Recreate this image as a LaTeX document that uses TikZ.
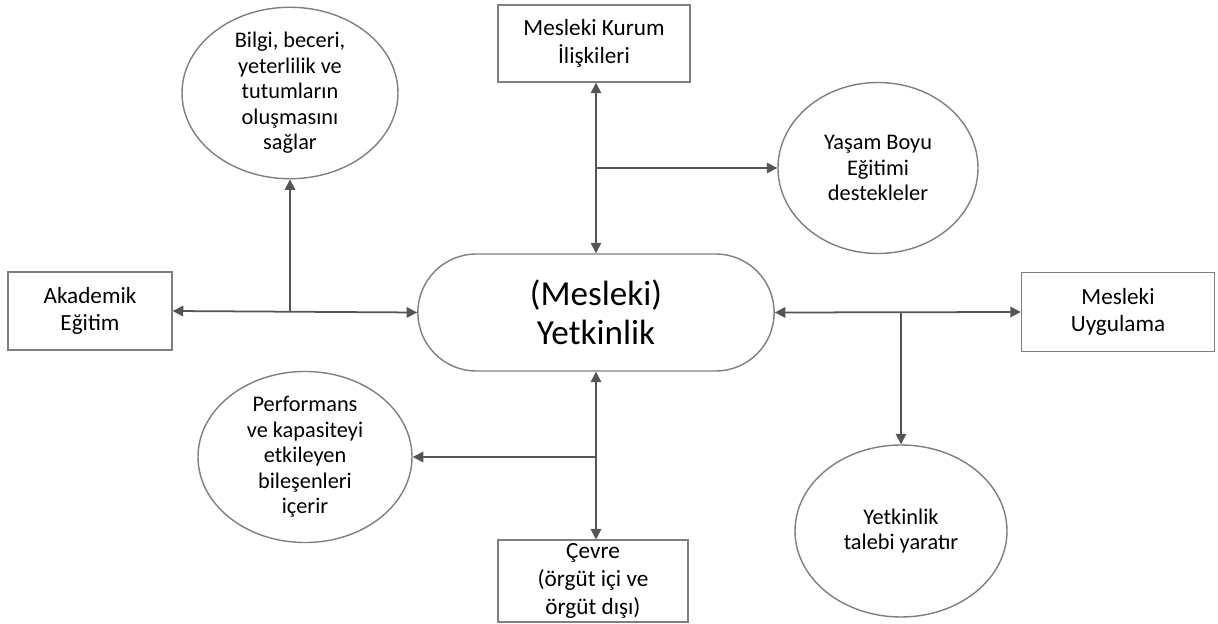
\documentclass[tikz,border=0pt]{standalone}
\usepackage{fontspec}
\setmainfont{Carlito}
\usetikzlibrary{shapes.geometric}
\usetikzlibrary{shapes.misc}
\usetikzlibrary{arrows.meta}

\definecolor{edgegray}{HTML}{555555}
\definecolor{linegray}{HTML}{7F7F7F}

\begin{document}
\begin{tikzpicture}
%[x=0.02cm, y=-0.02cm] -- pixel grid of the scan

\tikzstyle{compbox}=[align=center,draw=linegray,line width=0.8pt,
inner sep=2pt,font=\fontsize{13.2}{15.8}\selectfont]
\tikzstyle{compell}=[align=center,shape=ellipse,draw=linegray,line width=0.8pt,
inner sep=0pt,font=\fontsize{12.7}{14.5}\selectfont]
\tikzstyle{compcore}=[align=center,shape=rounded rectangle,draw=linegray,
line width=0.8pt,font=\fontsize{20}{22}\selectfont]
\tikzstyle{link}=[draw=edgegray,line width=1pt,
-{Triangle[length=6pt,width=6pt]}]
\tikzstyle{twolink}=[draw=edgegray,line width=1pt,
{Triangle[length=6pt,width=6pt]}-{Triangle[length=6pt,width=6pt]}]

\useasboundingbox (0,0) rectangle (24.36,-12.48);

\node[compcore, minimum width=7.36cm, minimum height=2.34cm] (core) at (11.92,-6.25) {(Mesleki)\\Yetkinlik};

\node[compbox, minimum width=3.84cm, minimum height=1.54cm] (kurum) at (11.88,-0.87) {Mesleki Kurum\\İlişkileri};
\node[compbox, minimum width=3.28cm, minimum height=1.56cm] (akademik) at (1.80,-6.22) {Akademik\\Eğitim};
\node[compbox, minimum width=3.86cm, minimum height=1.58cm] (uygulama) at (22.36,-6.24) {Mesleki\\Uygulama};
\node[compbox, minimum width=3.80cm, minimum height=1.56cm] (cevre) at (11.86,-11.62) {Çevre\\(örgüt içi ve\\örgüt dışı)};

\node[compell, minimum width=4.32cm, minimum height=3.42cm] (bilgi) at (5.80,-1.86) {Bilgi, beceri,\\yeterlilik ve\\tutumların\\oluşmasını\\sağlar};
\node[compell, minimum width=4.00cm, minimum height=3.42cm] (yasam) at (17.56,-3.36) {Yaşam Boyu\\Eğitimi\\destekleler};
\node[compell, minimum width=4.28cm, minimum height=3.20cm] (performans) at (6.10,-9.14) {Performans\\ve kapasiteyi\\etkileyen\\bileşenleri\\içerir};
\node[compell, minimum width=4.24cm, minimum height=3.44cm] (talebi) at (18.02,-10.62) {Yetkinlik\\talebi yaratır};

% junctions
\coordinate (jkurum) at (core.north |- yasam.west);
\coordinate (jakad) at (bilgi.south |- core.west);
\coordinate (juyg) at (talebi.north |- core.east);
\coordinate (jcevre) at (core.south |- performans.east);

\draw[twolink] (core.north |- kurum.south) -- (core.north);
\draw[link] (jkurum) -- (yasam.west);
\draw[twolink] (akademik.east) -- (core.west);
\draw[link] (jakad) -- (bilgi.south);
\draw[twolink] (core.east) -- (uygulama.west);
\draw[link] (juyg) -- (talebi.north);
\draw[twolink] (core.south) -- (core.south |- cevre.north);
\draw[link] (jcevre) -- (performans.east);
\end{tikzpicture}
\end{document}
